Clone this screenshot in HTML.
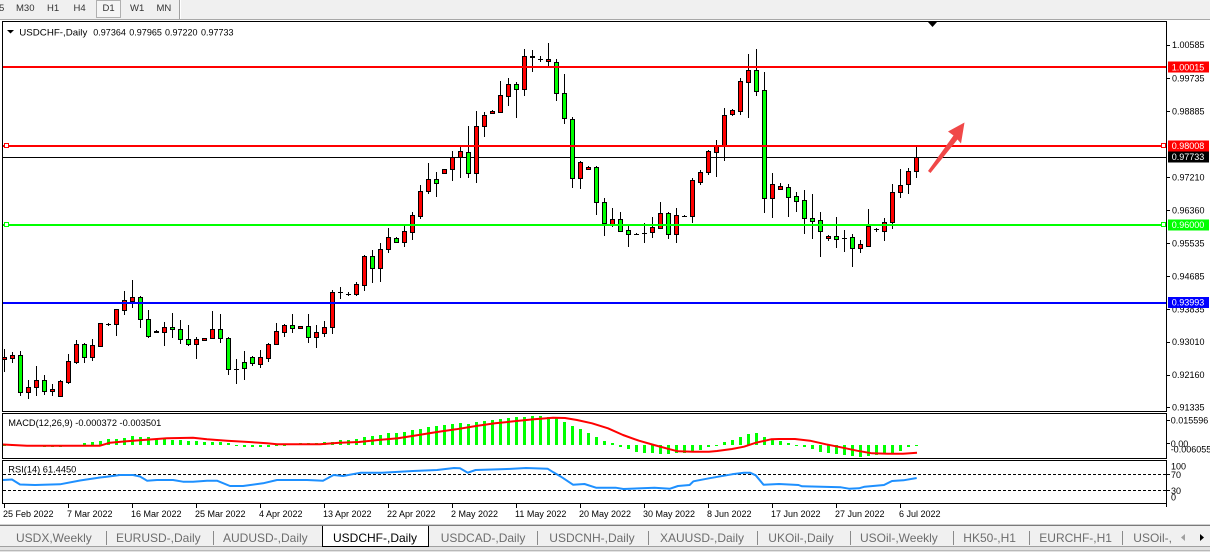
<!DOCTYPE html>
<html><head><meta charset="utf-8">
<style>
html,body{margin:0;padding:0;width:1210px;height:552px;overflow:hidden;background:#fff}
svg{display:block}
text{font-family:"Liberation Sans",Arial,sans-serif}
</style></head>
<body>
<svg width="1210" height="552" viewBox="0 0 1210 552" xmlns="http://www.w3.org/2000/svg">
<defs><clipPath id="tabclip"><rect x="0" y="526" width="1172" height="22"/></clipPath></defs>
<!-- top toolbar -->
<rect x="0" y="0" width="1210" height="20" fill="#f0f0f0"/>
<rect x="96.5" y="0.5" width="24" height="17" fill="#f5f5f5" stroke="#b0b0b0"/>
<line x1="179.5" y1="0" x2="179.5" y2="19" stroke="#a0a0a0"/>
<line x1="180.5" y1="0" x2="180.5" y2="19" stroke="#ffffff"/>
<line x1="0" y1="19.5" x2="1210" y2="19.5" stroke="#a8a8a8"/>
<g font-size="9.5" fill="#333">
<text x="-1" y="11">5</text><text x="16" y="11">M30</text><text x="47" y="11">H1</text><text x="73.5" y="11">H4</text><text x="102.5" y="11">D1</text><text x="130" y="11">W1</text><text x="156.5" y="11">MN</text>
</g>
<!-- chart background -->
<rect x="0" y="20" width="1210" height="505" fill="#ffffff"/>
<!-- panel frames -->
<rect x="2.5" y="21.5" width="1164" height="390" fill="none" stroke="#000"/>
<rect x="2.5" y="413.5" width="1164" height="45" fill="none" stroke="#000"/>
<rect x="2.5" y="460.5" width="1164" height="43" fill="none" stroke="#000"/>
<!-- chart shift marker -->
<polygon points="928,22 937,22 932.5,27" fill="#000"/>
<!-- title -->
<polygon points="7,30 14,30 10.5,33.5" fill="#000"/>
<g font-size="9" fill="#000">
<text x="19.3" y="35.3" textLength="68" lengthAdjust="spacingAndGlyphs">USDCHF-,Daily</text>
<text x="93.3" y="35.3">0.97364</text><text x="129.3" y="35.3">0.97965</text><text x="165" y="35.3">0.97220</text><text x="201" y="35.3">0.97733</text>
</g>
<!-- current price line -->
<rect x="3" y="157" width="1163" height="1" fill="#000"/>
<!-- wicks -->
<path fill="none" stroke="#000" stroke-width="1" d="M4.5 349V372M12.5 352V363M20.5 351V396M28.5 380V399M36.5 366V396M44.5 375V395M52.5 384V396M60.5 380V396M68.5 354V384M76.5 340V364M84.5 343V363M92.5 339V361M100.5 323V347M108.5 323V326M116.5 309V336M124.5 291V315M132.5 280V308M140.5 296V328M148.5 310V338M156.5 330V333M164.5 322V346M172.5 313V338M180.5 320V344M188.5 325V346M196.5 337V359M204.5 338V340M212.5 311V339M220.5 314V343M228.5 337V375M236.5 359V384M244.5 351V380M252.5 356V366M260.5 350V368M268.5 343V362M276.5 323V345M284.5 324V337M292.5 314V333M300.5 326V328M308.5 314V343M316.5 325V348M324.5 321V337M332.5 290V334M340.5 287V299M348.5 292V296M356.5 282V296M364.5 255V291M372.5 250V283M380.5 243V282M388.5 228V253M396.5 237V243M404.5 226V247M412.5 212V240M420.5 185V219M428.5 163V194M436.5 172V197M444.5 169V173M452.5 151V181M460.5 147V178M468.5 126V178M476.5 111V183M484.5 112V137M492.5 110V114M500.5 81V112M508.5 78V106M516.5 82V118M524.5 49V96M532.5 50V72M540.5 56V62M548.5 43V67M556.5 59V101M564.5 74V124M572.5 117V188M580.5 161V189M588.5 166V169M596.5 166V215M604.5 198V236M612.5 208V227M620.5 212V232M628.5 226V247M636.5 233V235M644.5 223V243M652.5 217V238M660.5 202V229M668.5 212V239M676.5 208V243M684.5 215V217M692.5 178V223M700.5 170V185M708.5 150V175M716.5 140V177M724.5 108V161M732.5 109V116M740.5 78V115M748.5 54V118M756.5 49V96M764.5 72V213M772.5 173V218M780.5 183V190M788.5 184V217M796.5 192V212M804.5 190V234M812.5 194V239M820.5 212V257M828.5 235V241M836.5 217V248M844.5 230V252M852.5 234V267M860.5 240V253M868.5 209V247M876.5 228V232M884.5 218V241M892.5 184V229M900.5 169V198M908.5 168V194M916.5 147V178"/>
<!-- dojis -->
<path fill="none" stroke="#000" stroke-width="1" d="M106 324.5H111M234 369.5H239M338 292.5H343M346 294.5H351M538 59.5H543M634 234.5H639M642 233.5H647M682 216.5H687M842 238.5H847M874 229.5H879"/>
<!-- red (up) bodies -->
<g fill="#ff0000" stroke="#000" stroke-width="1">
<rect x="2.5" y="357.5" width="4" height="2"/><rect x="10.5" y="355.5" width="4" height="3"/><rect x="26.5" y="387.5" width="4" height="5"/><rect x="34.5" y="380.5" width="4" height="7"/><rect x="50.5" y="389.5" width="4" height="2"/><rect x="58.5" y="381.5" width="4" height="15"/><rect x="66.5" y="361.5" width="4" height="21"/><rect x="74.5" y="344.5" width="4" height="18"/><rect x="90.5" y="345.5" width="4" height="12"/><rect x="98.5" y="323.5" width="4" height="23"/><rect x="114.5" y="309.5" width="4" height="15"/><rect x="122.5" y="300.5" width="4" height="10"/><rect x="130.5" y="297.5" width="4" height="4"/><rect x="154.5" y="331.5" width="4" height="1"/><rect x="162.5" y="327.5" width="4" height="5"/><rect x="194.5" y="339.5" width="4" height="5"/><rect x="202.5" y="338.5" width="4" height="2"/><rect x="210.5" y="329.5" width="4" height="9"/><rect x="258.5" y="357.5" width="4" height="7"/><rect x="266.5" y="344.5" width="4" height="14"/><rect x="274.5" y="331.5" width="4" height="13"/><rect x="282.5" y="325.5" width="4" height="7"/><rect x="298.5" y="326.5" width="4" height="2"/><rect x="314.5" y="332.5" width="4" height="5"/><rect x="322.5" y="327.5" width="4" height="6"/><rect x="330.5" y="292.5" width="4" height="35"/><rect x="354.5" y="284.5" width="4" height="10"/><rect x="362.5" y="256.5" width="4" height="29"/><rect x="378.5" y="249.5" width="4" height="19"/><rect x="386.5" y="237.5" width="4" height="12"/><rect x="402.5" y="231.5" width="4" height="11"/><rect x="410.5" y="215.5" width="4" height="17"/><rect x="418.5" y="191.5" width="4" height="25"/><rect x="426.5" y="179.5" width="4" height="12"/><rect x="442.5" y="169.5" width="4" height="4"/><rect x="450.5" y="157.5" width="4" height="12"/><rect x="458.5" y="151.5" width="4" height="6"/><rect x="474.5" y="126.5" width="4" height="47"/><rect x="482.5" y="115.5" width="4" height="11"/><rect x="490.5" y="111.5" width="4" height="2"/><rect x="498.5" y="95.5" width="4" height="17"/><rect x="506.5" y="84.5" width="4" height="12"/><rect x="522.5" y="56.5" width="4" height="33"/><rect x="530.5" y="56.5" width="4" height="1"/><rect x="546.5" y="59.5" width="4" height="2"/><rect x="578.5" y="162.5" width="4" height="16"/><rect x="586.5" y="167.5" width="4" height="2"/><rect x="610.5" y="219.5" width="4" height="5"/><rect x="650.5" y="227.5" width="4" height="5"/><rect x="658.5" y="213.5" width="4" height="15"/><rect x="674.5" y="215.5" width="4" height="19"/><rect x="690.5" y="180.5" width="4" height="36"/><rect x="698.5" y="172.5" width="4" height="10"/><rect x="706.5" y="151.5" width="4" height="21"/><rect x="714.5" y="146.5" width="4" height="6"/><rect x="722.5" y="115.5" width="4" height="31"/><rect x="730.5" y="110.5" width="4" height="4"/><rect x="738.5" y="81.5" width="4" height="30"/><rect x="746.5" y="70.5" width="4" height="12"/><rect x="770.5" y="184.5" width="4" height="14"/><rect x="778.5" y="186.5" width="4" height="3"/><rect x="826.5" y="236.5" width="4" height="2"/><rect x="858.5" y="244.5" width="4" height="4"/><rect x="866.5" y="226.5" width="4" height="20"/><rect x="882.5" y="222.5" width="4" height="9"/><rect x="890.5" y="192.5" width="4" height="30"/><rect x="898.5" y="185.5" width="4" height="7"/><rect x="906.5" y="171.5" width="4" height="13"/><rect x="914.5" y="157.5" width="4" height="14"/>
</g>
<!-- green (down) bodies -->
<g fill="#00ff00" stroke="#000" stroke-width="1">
<rect x="18.5" y="355.5" width="4" height="37"/><rect x="42.5" y="380.5" width="4" height="11"/><rect x="82.5" y="344.5" width="4" height="13"/><rect x="138.5" y="297.5" width="4" height="22"/><rect x="146.5" y="319.5" width="4" height="17"/><rect x="170.5" y="327.5" width="4" height="2"/><rect x="178.5" y="329.5" width="4" height="10"/><rect x="186.5" y="339.5" width="4" height="5"/><rect x="218.5" y="329.5" width="4" height="9"/><rect x="226.5" y="338.5" width="4" height="31"/><rect x="242.5" y="362.5" width="4" height="6"/><rect x="250.5" y="357.5" width="4" height="6"/><rect x="290.5" y="325.5" width="4" height="3"/><rect x="306.5" y="326.5" width="4" height="11"/><rect x="370.5" y="256.5" width="4" height="12"/><rect x="394.5" y="238.5" width="4" height="4"/><rect x="434.5" y="179.5" width="4" height="4"/><rect x="466.5" y="152.5" width="4" height="21"/><rect x="514.5" y="84.5" width="4" height="5"/><rect x="554.5" y="62.5" width="4" height="31"/><rect x="562.5" y="93.5" width="4" height="25"/><rect x="570.5" y="119.5" width="4" height="59"/><rect x="594.5" y="167.5" width="4" height="35"/><rect x="602.5" y="202.5" width="4" height="21"/><rect x="618.5" y="219.5" width="4" height="12"/><rect x="626.5" y="230.5" width="4" height="4"/><rect x="666.5" y="213.5" width="4" height="21"/><rect x="754.5" y="70.5" width="4" height="21"/><rect x="762.5" y="90.5" width="4" height="108"/><rect x="786.5" y="187.5" width="4" height="10"/><rect x="794.5" y="196.5" width="4" height="5"/><rect x="802.5" y="200.5" width="4" height="18"/><rect x="810.5" y="218.5" width="4" height="3"/><rect x="818.5" y="220.5" width="4" height="11"/><rect x="834.5" y="236.5" width="4" height="3"/><rect x="850.5" y="237.5" width="4" height="11"/>
</g>
<!-- horizontal levels -->
<rect x="3" y="66" width="1163" height="2" fill="#ff0000"/>
<rect x="3" y="145" width="1163" height="2" fill="#ff0000"/>
<rect x="3" y="224" width="1163" height="2" fill="#00ff00"/>
<rect x="3" y="302" width="1163" height="2" fill="#0000ff"/>
<rect x="4.5" y="143.5" width="4" height="4" fill="#fff" stroke="#ff0000"/>
<rect x="1161.5" y="143.5" width="4" height="4" fill="#fff" stroke="#ff0000"/>
<rect x="4.5" y="222.5" width="4" height="4" fill="#fff" stroke="#00ff00"/>
<rect x="1161.5" y="222.5" width="4" height="4" fill="#fff" stroke="#00ff00"/>
<!-- arrow -->
<polygon points="928,171 930.5,173 957.5,139.5 961,143.5 964.5,122.5 948,131.5 953.5,135.5" fill="#f04848"/>
<!-- price axis -->
<path stroke="#000" fill="none" d="M1166 45.5h4M1166 78.5h4M1166 111.5h4M1166 177.5h4M1166 210.5h4M1166 243.5h4M1166 276.5h4M1166 309.5h4M1166 342.5h4M1166 375.5h4M1166 407.5h4M1166 420.5h4M1166 443.5h4M1166 474.5h4M1166 490.5h4"/>
<g font-size="9" fill="#000">
<text x="1172" y="48.2">1.00585</text>
<text x="1172" y="81.5">0.99735</text>
<text x="1172" y="114.5">0.98885</text>
<text x="1172" y="180.5">0.97210</text>
<text x="1172" y="213.5">0.96360</text>
<text x="1172" y="246.7">0.95535</text>
<text x="1172" y="279.7">0.94685</text>
<text x="1172" y="312.7">0.93835</text>
<text x="1172" y="345.2">0.93010</text>
<text x="1172" y="378.2">0.92160</text>
<text x="1172" y="410.5">0.91335</text>
<text x="1170.7" y="423.7">0.015596</text>
<text x="1170.7" y="447">0.00</text>
<text x="1170.7" y="452.5">-0.006055</text>
<text x="1171" y="469.7">100</text>
<text x="1171" y="478.2">70</text>
<text x="1171" y="494">30</text>
<text x="1171" y="500.7">0</text>
</g>
<!-- highlighted price labels -->
<rect x="1168" y="61.5" width="41" height="11" fill="#ff0000"/>
<rect x="1168" y="140.5" width="41" height="11" fill="#ff0000"/>
<rect x="1168" y="151.5" width="41" height="11" fill="#000000"/>
<rect x="1168" y="219.5" width="41" height="11" fill="#00ff00"/>
<rect x="1168" y="297" width="41" height="11" fill="#0000ff"/>
<g font-size="9" fill="#fff">
<text x="1171.7" y="70.3">1.00015</text>
<text x="1171.7" y="149.2">0.98008</text>
<text x="1171.7" y="160.2">0.97733</text>
<text x="1171.7" y="228.2">0.96000</text>
<text x="1171.7" y="305.7">0.93993</text>
</g>
<!-- MACD -->
<text x="8.3" y="426" font-size="9" fill="#000" textLength="153" lengthAdjust="spacingAndGlyphs">MACD(12,26,9) -0.000372 -0.003501</text>
<path fill="#00ff00" d="M3 445h3v1h-3zM11 445h3v1h-3zM19 445h3v1h-3zM27 445h3v1h-3zM35 445h3v1h-3zM43 445h3v2h-3zM51 445h3v2h-3zM59 445h3v2h-3zM67 445h3v1h-3zM75 445h3v1h-3zM83 443h3v2h-3zM91 442h3v3h-3zM99 441h3v4h-3zM107 439h3v6h-3zM115 439h3v6h-3zM123 438h3v7h-3zM131 436h3v9h-3zM139 437h3v8h-3zM147 437h3v8h-3zM155 439h3v6h-3zM163 439h3v6h-3zM171 440h3v5h-3zM179 440h3v5h-3zM187 441h3v4h-3zM195 441h3v4h-3zM203 442h3v3h-3zM211 442h3v3h-3zM219 442h3v3h-3zM227 443h3v2h-3zM235 445h3v1h-3zM243 445h3v2h-3zM251 445h3v2h-3zM259 445h3v2h-3zM267 445h3v2h-3zM275 445h3v1h-3zM283 445h3v1h-3zM291 444h3v1h-3zM299 443h3v2h-3zM307 443h3v2h-3zM315 443h3v2h-3zM323 442h3v3h-3zM331 442h3v3h-3zM339 440h3v5h-3zM347 440h3v5h-3zM355 439h3v6h-3zM363 437h3v8h-3zM371 436h3v9h-3zM379 435h3v10h-3zM387 433h3v12h-3zM395 433h3v12h-3zM403 432h3v13h-3zM411 430h3v15h-3zM419 429h3v16h-3zM427 427h3v18h-3zM435 426h3v19h-3zM443 425h3v20h-3zM451 424h3v21h-3zM459 423h3v22h-3zM467 424h3v21h-3zM475 422h3v23h-3zM483 421h3v24h-3zM491 420h3v25h-3zM499 419h3v26h-3zM507 418h3v27h-3zM515 417h3v28h-3zM523 417h3v28h-3zM531 416h3v29h-3zM539 416h3v29h-3zM547 417h3v28h-3zM555 418h3v27h-3zM563 422h3v23h-3zM571 426h3v19h-3zM579 429h3v16h-3zM587 433h3v12h-3zM595 437h3v8h-3zM603 441h3v4h-3zM611 443h3v2h-3zM619 445h3v2h-3zM627 445h3v4h-3zM635 445h3v7h-3zM643 445h3v8h-3zM651 445h3v8h-3zM659 445h3v9h-3zM667 445h3v9h-3zM675 445h3v8h-3zM683 445h3v8h-3zM691 445h3v7h-3zM699 445h3v5h-3zM707 445h3v2h-3zM715 445h3v1h-3zM723 442h3v3h-3zM731 440h3v5h-3zM739 437h3v8h-3zM747 434h3v11h-3zM755 433h3v12h-3zM763 437h3v8h-3zM771 439h3v6h-3zM779 441h3v4h-3zM787 443h3v2h-3zM795 445h3v1h-3zM803 445h3v2h-3zM811 445h3v4h-3zM819 445h3v7h-3zM827 445h3v8h-3zM835 445h3v9h-3zM843 445h3v10h-3zM851 445h3v11h-3zM859 445h3v12h-3zM867 445h3v11h-3zM875 445h3v10h-3zM883 445h3v8h-3zM891 445h3v8h-3zM899 445h3v6h-3zM907 445h3v2h-3zM915 445h3v1h-3z"/>
<polyline fill="none" stroke="#ff0000" stroke-width="2" stroke-linejoin="round" points="3,444.5 27,445.7 100,445.7 110,442.7 133,440.7 167,438.3 193,437.7 207,439.3 227,440.7 253,442.3 267,443.3 277,444.3 320,444.3 339.5,442.7 359,442 378,440 398,438.3 417,435.3 437,432 456,429.3 476,426 495,423.3 514,421.3 534,419.3 553,417.7 565,418 577,420 592,423.3 608,428.3 623,435 639,440.7 654,445 670,449.3 678,451.3 693,451.7 709,451.7 717,451 732,449 744,446.7 756,442.7 771,439.3 779,439 795,439 810,440.7 826,444.3 841,447.3 857,450.7 872,453.3 888,453.7 903,453.7 917,452.7"/>
<!-- RSI -->
<text x="8.3" y="472.5" font-size="9" fill="#000" textLength="68" lengthAdjust="spacingAndGlyphs">RSI(14) 61.4450</text>
<line x1="3" y1="474.5" x2="1166" y2="474.5" stroke="#000" stroke-dasharray="3,2"/>
<line x1="3" y1="490.5" x2="1166" y2="490.5" stroke="#000" stroke-dasharray="3,2"/>
<polyline fill="none" stroke="#1e90ff" stroke-width="2" stroke-linejoin="round" points="3,480 12,479.5 20,484.5 35,485 60,484.3 80,480.5 100,477.5 107,476.7 120,475 133,475 140,476.5 147,480.7 157,480 173,480 183,481.7 193,481.7 207,480.7 217,480.7 230,486 243,486 263,483.3 277,480 293,480 307,480 323,480.7 333.6,475 343,476 360.8,472.7 382,472.7 413,471 437,470 454,468 460,468.3 467.8,472.7 475.6,470 507,469 526,468 547.6,468.7 553.4,472.3 561,476.7 573,484.7 584.5,484 596,487.7 615.6,487.7 623.4,489 654.5,487.7 670,488.7 678,486 689.6,485 693.4,481.3 709,478.3 732,474.3 744,472.7 750,472.7 755.7,475.3 763.5,484.7 779,484 798.5,485 802,486.3 841,487.3 849,488.7 859,488.3 864.6,486.7 884,485 892,481 903.5,480.3 916.7,478"/>
<!-- time axis -->
<path stroke="#000" fill="none" d="M4.5 504v4M68.5 504v4M132.5 504v4M196.5 504v4M260.5 504v4M324.5 504v4M388.5 504v4M452.5 504v4M516.5 504v4M580.5 504v4M644.5 504v4M708.5 504v4M772.5 504v4M836.5 504v4M900.5 504v4M1166.5 504v3"/>
<g font-size="9" fill="#000">
<text x="3" y="517.2">25 Feb 2022</text>
<text x="67" y="517.2">7 Mar 2022</text>
<text x="131" y="517.2">16 Mar 2022</text>
<text x="195" y="517.2">25 Mar 2022</text>
<text x="259" y="517.2">4 Apr 2022</text>
<text x="323" y="517.2">13 Apr 2022</text>
<text x="387" y="517.2">22 Apr 2022</text>
<text x="451" y="517.2">2 May 2022</text>
<text x="515" y="517.2">11 May 2022</text>
<text x="579" y="517.2">20 May 2022</text>
<text x="643" y="517.2">30 May 2022</text>
<text x="707" y="517.2">8 Jun 2022</text>
<text x="771" y="517.2">17 Jun 2022</text>
<text x="835" y="517.2">27 Jun 2022</text>
<text x="899" y="517.2">6 Jul 2022</text>
</g>
<!-- tab bar -->
<rect x="0" y="525" width="1210" height="27" fill="#f0f0f0"/>
<line x1="0" y1="524.5" x2="1210" y2="524.5" stroke="#d0d0d0"/>
<line x1="0" y1="525.5" x2="1210" y2="525.5" stroke="#7a7a7a"/>
<line x1="0" y1="546.5" x2="1210" y2="546.5" stroke="#a0a0a0"/>
<rect x="0" y="547" width="1210" height="5" fill="#e2e2e2"/>
<line x1="0" y1="550.5" x2="1210" y2="550.5" stroke="#b8b8b8"/>
<rect x="322" y="526" width="107" height="20" fill="#ffffff"/>
<path fill="none" stroke="#000" d="M322.5 526V546.5H428.5V526"/>
<path fill="none" stroke="#8a8a8a" d="M106.5 531v14M213.5 531v14M537.5 531v14M648.5 531v14M757.5 531v14M850.5 531v14M953.5 531v14M1029.5 531v14M1122.5 531v14"/>
<g font-size="12" fill="#6d6d6d" clip-path="url(#tabclip)">
<text x="16" y="542">USDX,Weekly</text>
<text x="116" y="542">EURUSD-,Daily</text>
<text x="223" y="542">AUDUSD-,Daily</text>
<text x="333" y="542" fill="#000">USDCHF-,Daily</text>
<text x="440.7" y="542">USDCAD-,Daily</text>
<text x="549.3" y="542">USDCNH-,Daily</text>
<text x="660" y="542">XAUUSD-,Daily</text>
<text x="768.3" y="542">UKOil-,Daily</text>
<text x="860" y="542">USOil-,Weekly</text>
<text x="963.3" y="542">HK50-,H1</text>
<text x="1039.3" y="542">EURCHF-,H1</text>
<text x="1133.3" y="542">USOil-,H1</text>
</g>
<polygon points="1181,537.5 1185,534 1185,541" fill="#a0a0a0"/>
<polygon points="1204,537.5 1200,534 1200,541" fill="#000"/>
</svg>
</body></html>
